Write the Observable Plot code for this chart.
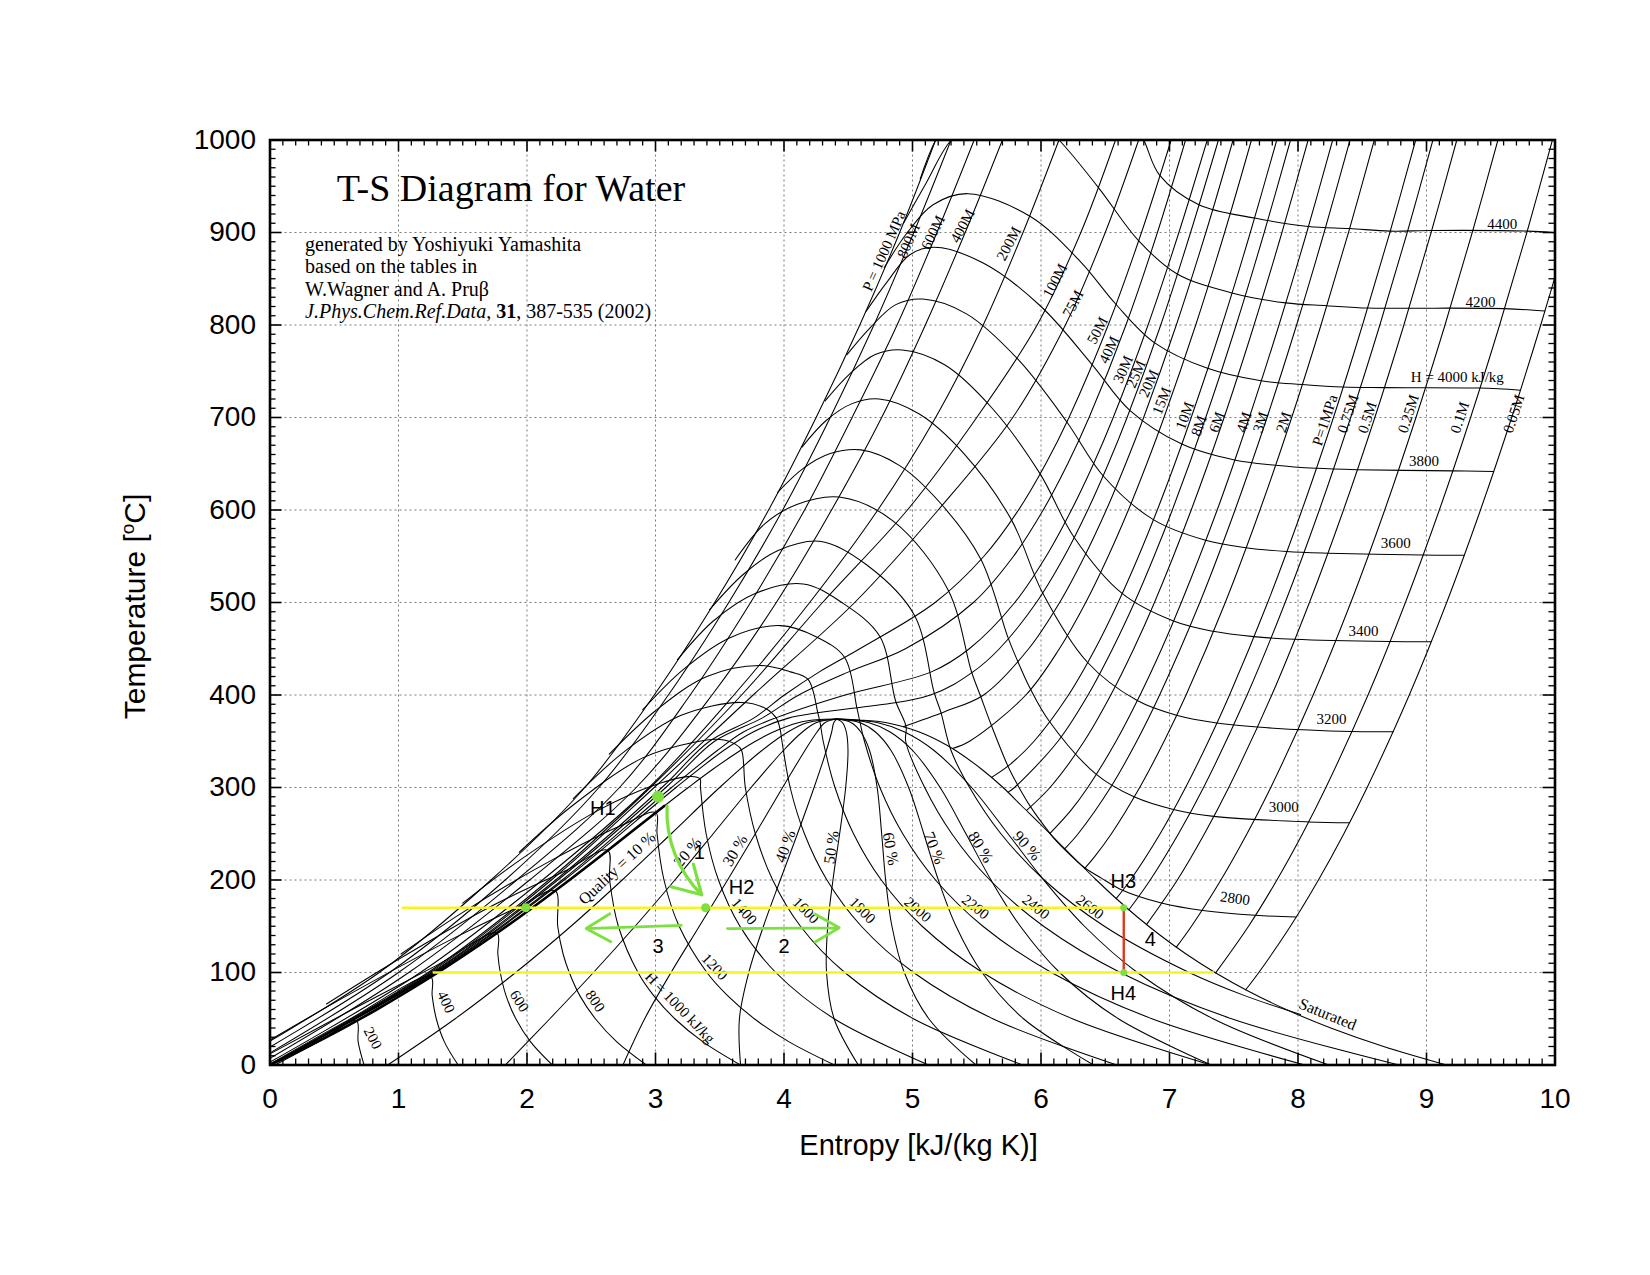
<!DOCTYPE html>
<html><head><meta charset="utf-8">
<script src="https://cdn.jsdelivr.net/npm/d3@7"></script>
<script src="https://cdn.jsdelivr.net/npm/@observablehq/plot@0.6"></script>
<style>body{margin:0;background:#fff;}</style>
</head><body><div id="chart"></div>
<script>
// ---------- axis ticks ----------
const xTicks = [0,1,2,3,4,5,6,7,8,9,10];
const yTicks = [0,100,200,300,400,500,600,700,800,900,1000];

// ---------- saturation dome [s, T] ----------
const satLiquid = [[0,0],[0.296,20],[0.572,40],[0.831,60],[1.075,80],[1.307,100],[1.527,120],[1.739,140],[1.943,160],[2.139,180],[2.331,200],[2.518,220],[2.702,240],[2.885,260],[3.068,280],[3.255,300],[3.449,320],[3.660,340],[3.778,350],[3.916,360],[4.111,370],[4.25,373.2],[4.41,373.95]];
const satVapor = [[4.41,373.95],[4.58,373.0],[4.800,370],[5.053,360],[5.211,350],[5.336,340],[5.536,320],[5.705,300],[5.851,280],[5.998,260],[6.141,240],[6.284,220],[6.431,200],[6.585,180],[6.750,160],[6.930,140],[7.129,120],[7.354,100],[7.611,80],[7.908,60],[8.255,40],[8.666,20],[9.156,0]];

// ---------- isobars [s, T] ----------
const p1000 = [[-0.32,0],[0.85,100],[1.72,200],[2.45,300],[2.99,400],[3.46,500],[3.88,600],[4.25,700],[4.59,800],[4.90,900],[5.18,1000]];
const p800  = [[-0.24,0],[0.93,100],[1.83,200],[2.56,300],[3.10,400],[3.57,500],[3.99,600],[4.36,700],[4.70,800],[5.01,900],[5.30,1000]];
const p600  = [[-0.16,0],[1.00,100],[1.92,200],[2.72,300],[3.27,400],[3.74,500],[4.16,600],[4.53,700],[4.88,800],[5.19,900],[5.48,1000]];
const p400  = [[-0.09,0],[1.08,100],[2.02,200],[2.85,300],[3.44,400],[3.94,500],[4.37,600],[4.76,700],[5.10,800],[5.41,900],[5.70,1000]];
const p200  = [[-0.04,0],[1.17,100],[2.12,200],[2.95,300],[3.61,400],[4.20,500],[4.73,600],[5.18,700],[5.55,800],[5.86,900],[6.14,1000]];
const p100  = [[-0.01,0],[1.23,100],[2.17,200],[2.96,300],[3.67,400],[4.30,500],[4.96,600],[5.50,700],[5.97,800],[6.31,900],[6.58,1000]];
const p75   = [[-0.005,0],[1.245,100],[2.19,200],[2.99,300],[3.76,400],[4.55,500],[5.20,600],[5.78,700],[6.19,800],[6.50,900],[6.76,1000]];
const p50   = [[0,0],[1.260,100],[2.223,200],[3.05,300],[3.42,350],[3.764,375],[4.003,400],[4.275,425],[4.590,450],[5.176,500],[5.556,550],[5.825,600],[6.037,650],[6.218,700],[6.523,800],[6.782,900],[7.013,1000]];
const p40   = [[0,0],[1.27,100],[2.24,200],[3.08,300],[3.46,350],[3.829,375],[4.115,400],[4.504,425],[4.945,450],[5.474,500],[5.786,550],[6.017,600],[6.208,650],[6.374,700],[6.661,800],[6.906,900],[7.125,1000]];
const p30   = [[0,0],[1.281,100],[2.274,200],[3.125,300],[3.481,340],[3.684,360],[3.931,375],[4.476,400],[5.147,425],[5.442,450],[5.796,500],[6.040,550],[6.237,600],[6.409,650],[6.562,700],[6.833,800],[7.073,900],[7.294,1000]];
const p25   = [[0,0],[1.29,100],[2.29,200],[3.16,300],[3.53,340],[3.76,360],[4.034,375],[5.140,400],[5.471,425],[5.676,450],[5.964,500],[6.182,550],[6.364,600],[6.524,650],[6.670,700],[6.932,800],[7.164,900],[7.381,1000]];
const p20   = [[4.927,365.8],[5.25,382],[5.553,400],[5.904,450],[6.145,500],[6.339,550],[6.508,600],[6.659,650],[6.799,700],[7.053,800],[7.283,900],[7.495,1000]];
const p15   = [[5.311,342.2],[5.444,350],[5.882,400],[6.143,450],[6.348,500],[6.523,550],[6.680,600],[6.823,650],[6.957,700],[7.204,800],[7.429,900],[7.638,1000]];
const p10   = [[5.616,311],[5.760,325],[5.946,350],[6.214,400],[6.422,450],[6.600,500],[6.759,550],[6.905,600],[7.041,650],[7.169,700],[7.409,800],[7.629,900],[7.835,1000]];
const p8    = [[5.745,295],[5.794,300],[6.132,350],[6.366,400],[6.557,450],[6.727,500],[6.880,550],[7.022,600],[7.282,700],[7.519,800],[7.737,900],[7.942,1000]];
const p6    = [[5.890,275.6],[6.070,300],[6.336,350],[6.543,400],[6.722,450],[6.883,500],[7.169,600],[7.425,700],[7.658,800],[7.875,900],[8.079,1000]];
const p4    = [[6.070,250.4],[6.231,275],[6.364,300],[6.584,350],[6.771,400],[6.939,450],[7.092,500],[7.371,600],[7.621,700],[7.852,800],[8.068,900],[8.270,1000]];
const p3    = [[6.186,233.9],[6.289,250],[6.541,300],[6.745,350],[6.923,400],[7.236,500],[7.510,600],[7.759,700],[7.989,800],[8.203,900],[8.405,1000]];
const p2    = [[6.339,212.4],[6.416,225],[6.548,250],[6.768,300],[6.958,350],[7.129,400],[7.434,500],[7.704,600],[7.951,700],[8.179,800],[8.393,900],[8.594,1000]];
const p1    = [[6.585,179.9],[6.696,200],[6.927,250],[7.125,300],[7.303,350],[7.467,400],[7.764,500],[8.031,600],[8.276,700],[8.502,800],[8.715,900],[8.916,1000]];
const p075  = [[6.684,167.8],[6.850,200],[7.070,250],[7.265,300],[7.604,400],[7.900,500],[8.166,600],[8.410,700],[8.637,800],[8.850,900],[9.050,1000]];
const p05   = [[6.821,151.8],[7.061,200],[7.272,250],[7.461,300],[7.796,400],[8.089,500],[8.354,600],[8.598,700],[8.824,800],[9.036,900],[9.236,1000]];
const p025  = [[7.053,127.4],[7.171,150],[7.400,200],[7.603,250],[7.788,300],[8.118,400],[8.411,500],[8.675,600],[8.918,700],[9.144,800],[9.356,900],[9.556,1000]];
const p01   = [[7.359,99.6],[7.615,150],[7.836,200],[8.035,250],[8.217,300],[8.545,400],[8.836,500],[9.100,600],[9.343,700],[9.569,800],[9.781,900],[9.980,1000]];
const p005  = [[7.593,81.3],[7.695,100],[7.941,150],[8.159,200],[8.357,250],[8.538,300],[8.866,400],[9.157,500],[9.420,600],[9.663,700],[9.889,800],[10.101,900]];

// ---------- isenthalps [s, T] (kJ/kg) ----------
const h200  = [[0.04,0],[0.40,27],[0.673,47.8],[0.686,25],[0.732,0]];
const h400  = [[0.0,1],[0.60,48],[1.251,95.4],[1.262,75],[1.294,50],[1.357,25],[1.464,0]];
const h600  = [[0.0,12],[0.60,57],[1.30,108],[1.766,142.6],[1.773,120],[1.792,100],[1.837,75],[1.913,50],[2.028,25],[2.197,0]];
const h800  = [[0.0,27],[0.60,75],[1.40,135],[1.95,172],[2.219,188.3],[2.239,150],[2.281,120],[2.329,100],[2.411,75],[2.532,50],[2.699,25],[2.929,0]];
const h1000 = [[0.44,66],[0.95,110],[1.70,170],[2.30,210],[2.628,232],[2.643,200],[2.711,150],[2.864,100],[2.986,75],[3.150,50],[3.370,25],[3.661,0]];
const h1200 = [[1.02,120],[1.50,165],[2.20,222],[2.75,260],[3.003,272.9],[3.012,250],[3.066,200],[3.184,150],[3.400,100],[3.561,75],[3.769,50],[4.040,25],[4.393,0]];
const h1400 = [[1.50,175],[1.95,222],[2.55,275],[3.0,303],[3.28,312],[3.346,309.4],[3.350,300],[3.394,250],[3.490,200],[3.657,150],[3.936,100],[4.390,50],[5.125,0]];
const h1600 = [[1.94,230],[2.35,280],[2.90,332],[3.30,349],[3.50,352],[3.62,347],[3.668,340.7],[3.699,300],[3.777,250],[3.912,200],[4.128,150],[4.473,100],[5.007,50],[5.857,0]];
const h1800 = [[2.36,288],[2.75,338],[3.20,378],[3.66,392],[3.85,386],[3.94,375],[3.97,362.8],[3.984,350],[4.048,300],[4.159,250],[4.334,200],[4.602,150],[5.008,100],[5.625,50],[6.590,0]];
const h2000 = [[2.64,336],[3.00,383],[3.40,420],[3.81,432],[4.05,425],[4.187,416.9],[4.264,380.2],[4.281,370],[4.305,350],[4.397,300],[4.541,250],[4.757,200],[5.075,150],[5.545,100],[6.244,50],[7.322,0]];
const h2200 = [[2.90,384],[3.22,428],[3.58,462],[3.97,475],[4.25,463],[4.472,440.6],[4.566,387],[4.592,370],[4.626,350],[4.746,300],[4.924,250],[5.179,200],[5.548,150],[6.081,100],[6.863,50],[8.054,0]];
const h2400 = [[3.17,438],[3.45,480],[3.78,510],[4.15,520],[4.45,500],[4.746,463.3],[4.868,393.8],[4.95,365.6],[4.947,350],[5.095,300],[5.306,250],[5.602,200],[6.020,150],[6.617,100],[7.483,50],[8.786,0]];
const h2600 = [[3.42,492],[3.68,530],[3.95,556],[4.29,566],[4.65,540],[5.015,486.3],[5.169,402.2],[5.22,381.8],[5.30,340],[5.444,300],[5.688,250],[6.025,200],[6.493,150],[7.153,100],[7.585,75],[8.02,54.6]];
const h2800 = [[3.62,546],[3.85,585],[4.10,606],[4.43,614],[4.85,588],[5.278,513.3],[5.461,424.3],[5.53,398.6],[5.609,368.9],[5.742,323.3],[5.816,303.3],[5.918,279.3],[6.07,250.4],[6.133,240],[6.282,220],[6.342,213],[6.47,202],[6.634,188.9],[6.937,175.1],[7.26,167],[7.667,161.8],[7.985,160.1]];
const h3000 = [[3.95,619],[4.15,645],[4.36,661],[4.60,665],[4.90,648],[5.22,607],[5.532,546.8],[5.744,461.8],[5.816,437.4],[5.917,406.7],[6.063,371.9],[6.428,314.5],[6.724,290],[7.031,276.3],[7.344,268.8],[8.081,262.8],[8.400,261.9]];
const h3200 = [[4.14,668],[4.33,697],[4.53,715],[4.74,720],[5.05,704],[5.40,661],[5.769,589.6],[6.011,510.8],[6.361,435.4],[6.749,394],[7.055,378.1],[7.367,369.7],[7.684,365.3],[8.416,360.5],[8.739,360.3]];
const h3400 = [[4.32,718],[4.51,747],[4.71,768],[4.92,773],[5.25,757],[5.62,710],[5.992,639.3],[6.257,570.6],[6.631,509.8],[7.031,480],[7.339,468.9],[7.655,463.1],[7.972,460.2],[8.713,457.8],[9.034,457.6]];
const h3600 = [[4.49,768],[4.67,797],[4.87,822],[5.08,828],[5.42,812],[5.82,763],[6.201,695.2],[6.483,637],[6.874,589.6],[7.280,567.3],[7.594,559.2],[7.911,555.1],[8.231,553.3],[8.972,551.3],[9.292,551.1]];
const h3800 = [[4.64,815],[4.81,848],[4.98,876],[5.17,884],[5.55,867],[6.00,820],[6.394,757.8],[6.691,707.8],[7.096,671.3],[7.506,654.1],[7.824,648.4],[8.141,645.1],[8.460,643.6],[9.203,642.3],[9.522,641.6]];
const h4000 = [[4.78,862],[4.96,900],[5.16,930],[5.43,942],[5.92,917],[6.31,868],[6.581,822.7],[6.882,781],[7.296,753.2],[7.713,739.7],[8.033,735.7],[8.350,732.9],[8.671,732.3],[9.415,731.8],[9.730,729.5]];
const h4200 = [[4.93,910],[5.10,952],[5.30,1000],[5.60,1035],[5.90,1030],[6.14,1000],[6.45,948],[6.759,891.2],[7.06,855.2],[7.485,834.7],[7.904,823.9],[8.224,820.9],[8.541,818.3],[8.863,818.2],[9.606,817.7],[9.921,815.2]];
const h4400 = [[5.06,958],[5.18,1000],[5.45,1060],[6.2,1090],[6.62,1050],[6.80,1000],[6.924,961.7],[7.229,930],[7.661,915.6],[8.081,906.5],[8.401,904.3],[8.718,901.5],[9.041,902.2],[9.784,901.5],[10.10,898.6]];

// ---------- constant quality lines [s, T] ----------
const q10 = [[0.916,0],[1.441,50],[1.912,100],[2.342,150],[2.741,200],[3.122,250],[3.499,300],[3.828,340],[4.030,360],[4.180,370],[4.41,373.95]];
const q20 = [[1.831,0],[2.178,50],[2.517,100],[2.841,150],[3.151,200],[3.449,250],[3.744,300],[3.995,340],[4.143,360],[4.249,370],[4.41,373.95]];
const q30 = [[2.747,0],[2.916,50],[3.121,100],[3.341,150],[3.561,200],[3.777,250],[3.989,300],[4.163,340],[4.257,360],[4.318,370],[4.41,373.95]];
const q40 = [[3.662,0],[3.653,50],[3.726,100],[3.840,150],[3.971,200],[4.105,250],[4.234,300],[4.330,340],[4.371,360],[4.387,370],[4.41,373.95]];
const q50 = [[4.578,0],[4.390,50],[4.331,100],[4.340,150],[4.381,200],[4.433,250],[4.480,300],[4.498,340],[4.485,360],[4.456,370],[4.41,373.95]];
const q60 = [[5.494,0],[5.127,50],[4.936,100],[4.840,150],[4.791,200],[4.760,250],[4.725,300],[4.666,340],[4.598,360],[4.524,370],[4.41,373.95]];
const q70 = [[6.409,0],[5.864,50],[5.541,100],[5.339,150],[5.201,200],[5.088,250],[4.970,300],[4.833,340],[4.712,360],[4.593,370],[4.41,373.95]];
const q80 = [[7.325,0],[6.602,50],[6.145,100],[5.839,150],[5.611,200],[5.416,250],[5.215,300],[5.001,340],[4.826,360],[4.662,370],[4.41,373.95]];
const q90 = [[8.240,0],[7.339,50],[6.750,100],[6.338,150],[6.021,200],[5.743,250],[5.460,300],[5.168,340],[4.939,360],[4.731,370],[4.41,373.95]];

// ---------- labels ----------
const isobarLabelText = ["P = 1000 MPa","800M","600M","400M","200M","100M","75M","50M","40M","30M","25M","20M","15M","10M","8M","6M","4M","3M","2M","P=1MPa","0.75M","0.5M","0.25M","0.1M","0.05M"];
const isobarLabelS = [4.78,4.97,5.16,5.39,5.75,6.11,6.25,6.44,6.53,6.64,6.74,6.84,6.94,7.12,7.23,7.37,7.58,7.71,7.89,8.21,8.39,8.54,8.86,9.26,9.68];
const isobarLabelT = [880,891,900,907,888,848,823,794,773,752,747,737,718,702,691,695,695,695,695,697,704,700,704,700,704];
const isobarLabelRot = [-66,-66,-64,-62,-62,-62,-62,-62,-64,-66,-66,-66,-68,-70,-70,-70,-72,-72,-72,-72,-72,-72,-72,-72,-72];

const hLabelText = ["4400","4200","H = 4000 kJ/kg","3800","3600","3400","3200","3000","2800","2600","2400","2200","2000","1800","1600","1400","1200","H = 1000 kJ/kg","800","600","400","200"];
const hLabelS = [9.59,9.42,9.24,8.98,8.76,8.51,8.26,7.89,7.51,6.38,5.96,5.49,5.04,4.61,4.17,3.69,3.46,3.19,2.53,1.94,1.37,0.80];
const hLabelT = [909,825,744,653,564,469,374,279,180,170.7,170.7,170.7,168,167,167,166,106,62,69,69,68,29];
const hLabelRot = [0,0,0,0,0,0,0,0,8,37,39,39,41,45,45,49,47,46,56,57,64,62];

const qLabelText = ["Quality = 10 %","20 %","30 %","40 %","50 %","60 %","70 %","80 %","90 %","Saturated"];
const qLabelS = [2.70,3.25,3.62,4.01,4.37,4.83,5.17,5.53,5.89,8.23];
const qLabelT = [212.7,230,231.8,236.4,235.4,233.6,234.6,235.4,237,54.7];
const qLabelRot = [-43,-50,-59,-70,-82,80,68,58,48,22];

// ---------- cycle overlay ----------
const cycleTemps = [170, 100];
const cycleS1 = [1.03, 1.27];
const cycleS2 = [6.644, 7.35];
const turbineS = 6.644;
const stateS = [3.02, 1.99, 3.39, 6.644, 6.644];
const stateT = [290, 170, 170, 170, 100];
const stateR = [6, 4.5, 4.5, 3.5, 3.5];
const stepLabels = ["H1","1","H2","3","2","H3","4","H4"];
const stepS = [2.59,3.34,3.67,3.02,4.00,6.64,6.85,6.64];
const stepT = [277,230,192,128,128,198,136,77];
const arrowS1 = [3.09, 3.20, 3.56];
const arrowT1 = [280, 151, 147.5];
const arrowS2 = [3.36, 2.46, 4.43];
const arrowT2 = [184, 147.5, 148.3];
const arrowBend = [-24, 0, 0];

// ---------- text ----------
const titleText = "T-S Diagram for Water";
const creditLines = ["generated by Yoshiyuki Yamashita","based on the tables in","W.Wagner and A. Pru\u03b2","J.Phys.Chem.Ref.Data, 31, 387-535 (2002)"];
const creditT = [887, 862.7, 838.4, 814.1];
const xLabel = "Entropy [kJ/(kg K)]";
const yLabel = "Temperature [oC]";

// ---------- build tables ----------
const families = {
  isobar: {p1000,p800,p600,p400,p200,p100,p75,p50,p40,p30,p25,p20,p15,p10,p8,p6,p4,p3,p2,p1,p075,p05,p025,p01,p005},
  isenthalp: {h200,h400,h600,h800,h1000,h1200,h1400,h1600,h1800,h2000,h2200,h2400,h2600,h2800,h3000,h3200,h3400,h3600,h3800,h4000,h4200,h4400},
  quality: {q10,q20,q30,q40,q50,q60,q70,q80,q90},
  dome: {dome: satLiquid.concat(satVapor.slice(1))}
};
const lineRows = [];
for (const [fam, obj] of Object.entries(families))
  for (const [name, pts] of Object.entries(obj))
    for (const [s, T] of pts) lineRows.push({fam, name, s, T});
const thickRows = satLiquid.filter(d => d[1] <= 285).map(([s,T]) => ({s, T}));

const mkLabels = (txt, S, T, R) => txt.map((t,i) => ({t, s:S[i], T:T[i], r:R[i]}));
const isobarLabels = mkLabels(isobarLabelText, isobarLabelS, isobarLabelT, isobarLabelRot);
const hLabels = mkLabels(hLabelText, hLabelS, hLabelT, hLabelRot);
const qLabels = mkLabels(qLabelText, qLabelS, qLabelT, qLabelRot);
const yellow = cycleTemps.map((T,i) => ({T, s1: cycleS1[i], s2: cycleS2[i]}));
const states = stateS.map((s,i) => ({s, T: stateT[i], r: stateR[i]}));
const steps = stepLabels.map((t,i) => ({t, s: stepS[i], T: stepT[i]}));
const arrows = arrowS1.map((s,i) => ({s1: s, T1: arrowT1[i], s2: arrowS2[i], T2: arrowT2[i], b: arrowBend[i]}));
const credits = creditLines.map((t,i) => ({t, s: 0.273, T: creditT[i]}));

const minorX = d3.range(0, 100.5, 1).map(d => d/10).filter(d => Math.abs(d - Math.round(d)) > 1e-6);
const minorY = d3.range(0, 1001, 10).filter(d => d % 100 !== 0);

const SERIF = "Liberation Serif, Times New Roman, serif";
const SANS = "Liberation Sans, Arial, Helvetica, sans-serif";
const GREEN = "#7ee03e";

const chart = Plot.plot({
  width: 1650, height: 1275,
  marginLeft: 269.5, marginRight: 95.5, marginTop: 139.5, marginBottom: 210.5,
  x: {domain: [0, 10]},
  y: {domain: [0, 1000]},
  style: {fontFamily: SANS, background: "white", color: "black"},
  marks: [
    Plot.gridX([1,2,3,4,5,6,7,8,9], {stroke: "#7a7a7a", strokeOpacity: 1, strokeDasharray: "2,3", strokeWidth: 1}),
    Plot.gridY([100,200,300,400,500,600,700,800,900], {stroke: "#7a7a7a", strokeOpacity: 1, strokeDasharray: "2,3", strokeWidth: 1}),
    Plot.line(lineRows, {x: "s", y: "T", z: "name", curve: "catmull-rom", stroke: "black", strokeWidth: 1.05, clip: true}),
    Plot.line(thickRows, {x: "s", y: "T", curve: "catmull-rom", stroke: "black", strokeWidth: 2.6, clip: true}),
    Plot.text(isobarLabels, {x: "s", y: "T", text: "t", rotate: "r", fontFamily: SERIF, fontSize: 15, fill: "black"}),
    Plot.text(hLabels, {x: "s", y: "T", text: "t", rotate: "r", fontFamily: SERIF, fontSize: 15, fill: "black"}),
    Plot.text(qLabels, {x: "s", y: "T", text: "t", rotate: "r", fontFamily: SERIF, fontSize: 16, fill: "black"}),
    // cycle overlay
    Plot.ruleY(yellow, {y: "T", x1: "s1", x2: "s2", stroke: "#f5f51c", strokeWidth: 2.4}),
    Plot.ruleX([turbineS], {x: d => d, y1: 100, y2: 170, stroke: "#e2371c", strokeWidth: 2.4}),
    Plot.arrow(arrows.filter(d => d.b !== 0), {x1: "s1", y1: "T1", x2: "s2", y2: "T2", bend: -24, stroke: GREEN, strokeWidth: 3.2, headLength: 15}),
    Plot.arrow(arrows.filter(d => d.b === 0), {x1: "s1", y1: "T1", x2: "s2", y2: "T2", stroke: GREEN, strokeWidth: 2.8, headLength: 15}),
    Plot.dot(states.filter(d => d.r > 5), {x: "s", y: "T", r: 6, fill: GREEN}),
    Plot.dot(states.filter(d => d.r > 4 && d.r < 5), {x: "s", y: "T", r: 4.5, fill: GREEN}),
    Plot.dot(states.filter(d => d.r < 4), {x: "s", y: "T", r: 3.5, fill: GREEN}),
    Plot.text(steps, {x: "s", y: "T", text: "t", fontFamily: SANS, fontSize: 20, fill: "black"}),
    // title & credits
    Plot.text([titleText], {x: 0.52, y: 947.2, text: d => d, textAnchor: "start", fontFamily: SERIF, fontSize: 38, fill: "black"}),
    Plot.text(credits, {x: "s", y: "T", text: "t", textAnchor: "start", fontFamily: SERIF, fontSize: 20, fill: "black"}),
    // ticks (inward, mirrored)
    Plot.ruleX(xTicks, {x: d => d, y1: 0, y2: 13, strokeWidth: 1.6}),
    Plot.ruleX(xTicks, {x: d => d, y1: 987, y2: 1000, strokeWidth: 1.6}),
    Plot.ruleX(minorX, {x: d => d, y1: 0, y2: 6.5, strokeWidth: 1.3}),
    Plot.ruleX(minorX, {x: d => d, y1: 993.5, y2: 1000, strokeWidth: 1.3}),
    Plot.ruleY(yTicks, {y: d => d, x1: 0, x2: 0.093, strokeWidth: 1.6}),
    Plot.ruleY(yTicks, {y: d => d, x1: 9.907, x2: 10, strokeWidth: 1.6}),
    Plot.ruleY(minorY, {y: d => d, x1: 0, x2: 0.047, strokeWidth: 1.3}),
    Plot.ruleY(minorY, {y: d => d, x1: 9.953, x2: 10, strokeWidth: 1.3}),
    Plot.frame({stroke: "black", strokeWidth: 2.6}),
    Plot.axisX(xTicks, {tickSize: 0, tickPadding: 23, fontSize: 28, label: null, fontFamily: SANS, tickFormat: d => String(d)}),
    Plot.axisY(yTicks, {tickSize: 0, tickPadding: 14, fontSize: 28, label: null, fontFamily: SANS, tickFormat: d => String(d)}),
    Plot.text([xLabel], {x: 5.047, y: -87.6, text: d => d, fontFamily: SANS, fontSize: 29, fill: "black"}),
    Plot.text([yLabel], {x: -1.047, y: 495.7, text: d => d, rotate: -90, fontFamily: SANS, fontSize: 30, fill: "black"})
  ]
});
document.getElementById("chart").appendChild(chart);

// rich text: italic / bold parts of the reference line, superscript in the y label
const NS = "http://www.w3.org/2000/svg";
function tspan(parent, txt, attrs) {
  const t = document.createElementNS(NS, "tspan");
  t.textContent = txt;
  for (const k in attrs) t.setAttribute(k, attrs[k]);
  parent.appendChild(t);
}
chart.querySelectorAll("text").forEach(el => {
  if (el.textContent === creditLines[3]) {
    el.textContent = "";
    tspan(el, "J.Phys.Chem.Ref.Data", {"font-style": "italic"});
    tspan(el, ", ", {});
    tspan(el, "31", {"font-weight": "bold"});
    tspan(el, ", 387-535 (2002)", {});
  } else if (el.textContent === yLabel) {
    el.textContent = "";
    tspan(el, "Temperature [", {});
    tspan(el, "o", {"font-size": "19", "dy": "-11"});
    tspan(el, "C]", {"dy": "11"});
  }
});
</script>
</body></html>
